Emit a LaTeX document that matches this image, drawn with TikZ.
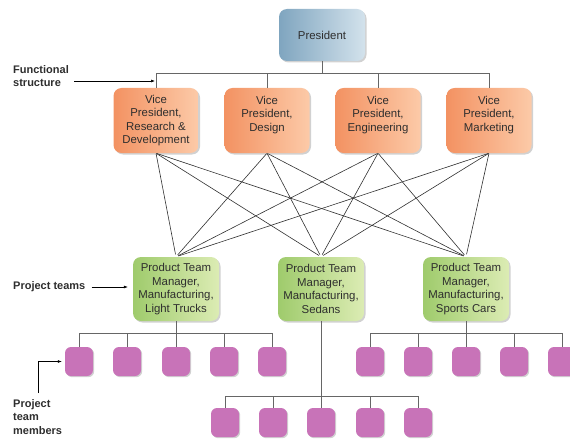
\documentclass[tikz,border=0pt]{standalone}
\usepackage{fontspec}
\setmainfont{Liberation Sans}
\usetikzlibrary{shadows,arrows.meta}
\definecolor{presL}{HTML}{7FA5BF}
\definecolor{presR}{HTML}{D3E2EC}
\definecolor{vpL}{HTML}{F39262}
\definecolor{vpR}{HTML}{FCCAA8}
\definecolor{ptL}{HTML}{9FCB6C}
\definecolor{ptR}{HTML}{DCECB4}
\definecolor{mem}{HTML}{C873B8}
\definecolor{txt}{HTML}{2E2E2E}
\definecolor{lineg}{HTML}{666666}
\definecolor{crossc}{HTML}{303030}
\begin{document}
\begin{tikzpicture}[x=1pt,y=-1pt,
  box/.style={rounded corners=8pt, align=center, font=\fontsize{11.4}{13.5}\selectfont, text=txt, inner sep=0pt,
    drop shadow={shadow xshift=1.5pt,shadow yshift=-1.5pt,opacity=0.18,fill=black}},
  pres/.style={box, minimum width=86pt, minimum height=52pt, left color=presL, right color=presR},
  vp/.style={box, minimum width=85pt, minimum height=65pt, left color=vpL, right color=vpR},
  ptm/.style={box, minimum width=86pt, minimum height=64pt, left color=ptL, right color=ptR},
  member/.style={rounded corners=6pt, fill=mem, minimum width=28pt, minimum height=29pt, inner sep=0pt,
    drop shadow={shadow xshift=1.2pt,shadow yshift=-1.2pt,opacity=0.18,fill=black}},
  tree/.style={draw=lineg, line width=0.9pt},
  cross/.style={draw=crossc, line width=0.6pt},
  lbl/.style={font=\bfseries\fontsize{11}{13.5}\selectfont, align=left, anchor=west, inner sep=0pt, text=txt},
  pointer/.style={draw=black, line width=0.6pt, -{Latex[length=4pt,width=3pt]}}
]
\useasboundingbox (0,0) rectangle (570,441);

% top level
\node[pres] (pres) at (322,35) {President};
\node[vp] (vp1) at (156,120.5) {Vice\\President,\\Research \&\\Development};
\node[vp] (vp2) at (267,120.5) {Vice\\President,\\Design\\\mbox{}};
\node[vp] (vp3) at (378,120.5) {Vice\\President,\\Engineering\\\mbox{}};
\node[vp] (vp4) at (489,120.5) {Vice\\President,\\Marketing\\\mbox{}};

\coordinate (bus0) at (322,73);
\draw[tree] (pres.south) -- (bus0);
\draw[tree] (vp1.north) -- (vp1.north |- bus0) -- (vp4.north |- bus0) -- (vp4.north);
\draw[tree] (vp2.north) -- (vp2.north |- bus0);
\draw[tree] (vp3.north) -- (vp3.north |- bus0);

% project team managers
\node[ptm] (ptm1) at (176,289) {Product Team\\Manager,\\Manufacturing,\\Light Trucks};
\node[ptm] (ptm2) at (321,289) {Product Team\\Manager,\\Manufacturing,\\Sedans};
\node[ptm] (ptm3) at (466,289) {Product Team\\Manager,\\Manufacturing,\\Sports Cars};

\foreach \v in {vp1,vp2,vp3,vp4}
  \foreach \p in {ptm1,ptm2,ptm3}
    \draw[cross, shorten >=2.5pt, shorten <=0.5pt] (\v.south) -- (\p.north);

% members
\foreach \i/\x in {1/79,2/127,3/176,4/224,5/272}
  \node[member] (a\i) at (\x,361.5) {};
\foreach \i/\x in {1/370,2/418,3/466,4/514,5/562}
  \node[member] (c\i) at (\x,361.5) {};
\foreach \i/\x in {1/225,2/273,3/321,4/370,5/418}
  \node[member] (b\i) at (\x,422.5) {};

\coordinate (busA) at (176,333);
\coordinate (busC) at (466,333);
\coordinate (busB) at (321,396);

\draw[tree] (ptm1.south) -- (ptm1.south |- busA);
\draw[tree] (a1.north) -- (a1.north |- busA) -- (a5.north |- busA) -- (a5.north);
\foreach \i in {2,3,4} \draw[tree] (a\i.north) -- (a\i.north |- busA);

\draw[tree] (ptm3.south) -- (ptm3.south |- busC);
\draw[tree] (c1.north) -- (c1.north |- busC) -- (c5.north |- busC) -- (c5.north);
\foreach \i in {2,3,4} \draw[tree] (c\i.north) -- (c\i.north |- busC);

\draw[tree] (ptm2.south) -- (ptm2.south |- busB);
\draw[tree] (b1.north) -- (b1.north |- busB) -- (b5.north |- busB) -- (b5.north);
\foreach \i in {2,3,4} \draw[tree] (b\i.north) -- (b\i.north |- busB);

% side labels
\node[lbl] (fs) at (13,76) {Functional\\structure};
\coordinate (fsarr) at (156,81);
\draw[pointer, shorten <=5pt, shorten >=1pt] (fs.east |- fsarr) -- (fsarr);

\node[lbl] (pt) at (13,287) {Project teams};
\draw[pointer, shorten <=6pt, shorten >=5pt] (pt.east) -- (pt.east -| ptm1.west);

\node[lbl] (pm) at (13,417) {Project\\team\\members};
\coordinate (pmarr) at (38,393);
\draw[pointer, shorten >=3pt] (pmarr) |- (a1.west);
\end{tikzpicture}
\end{document}
